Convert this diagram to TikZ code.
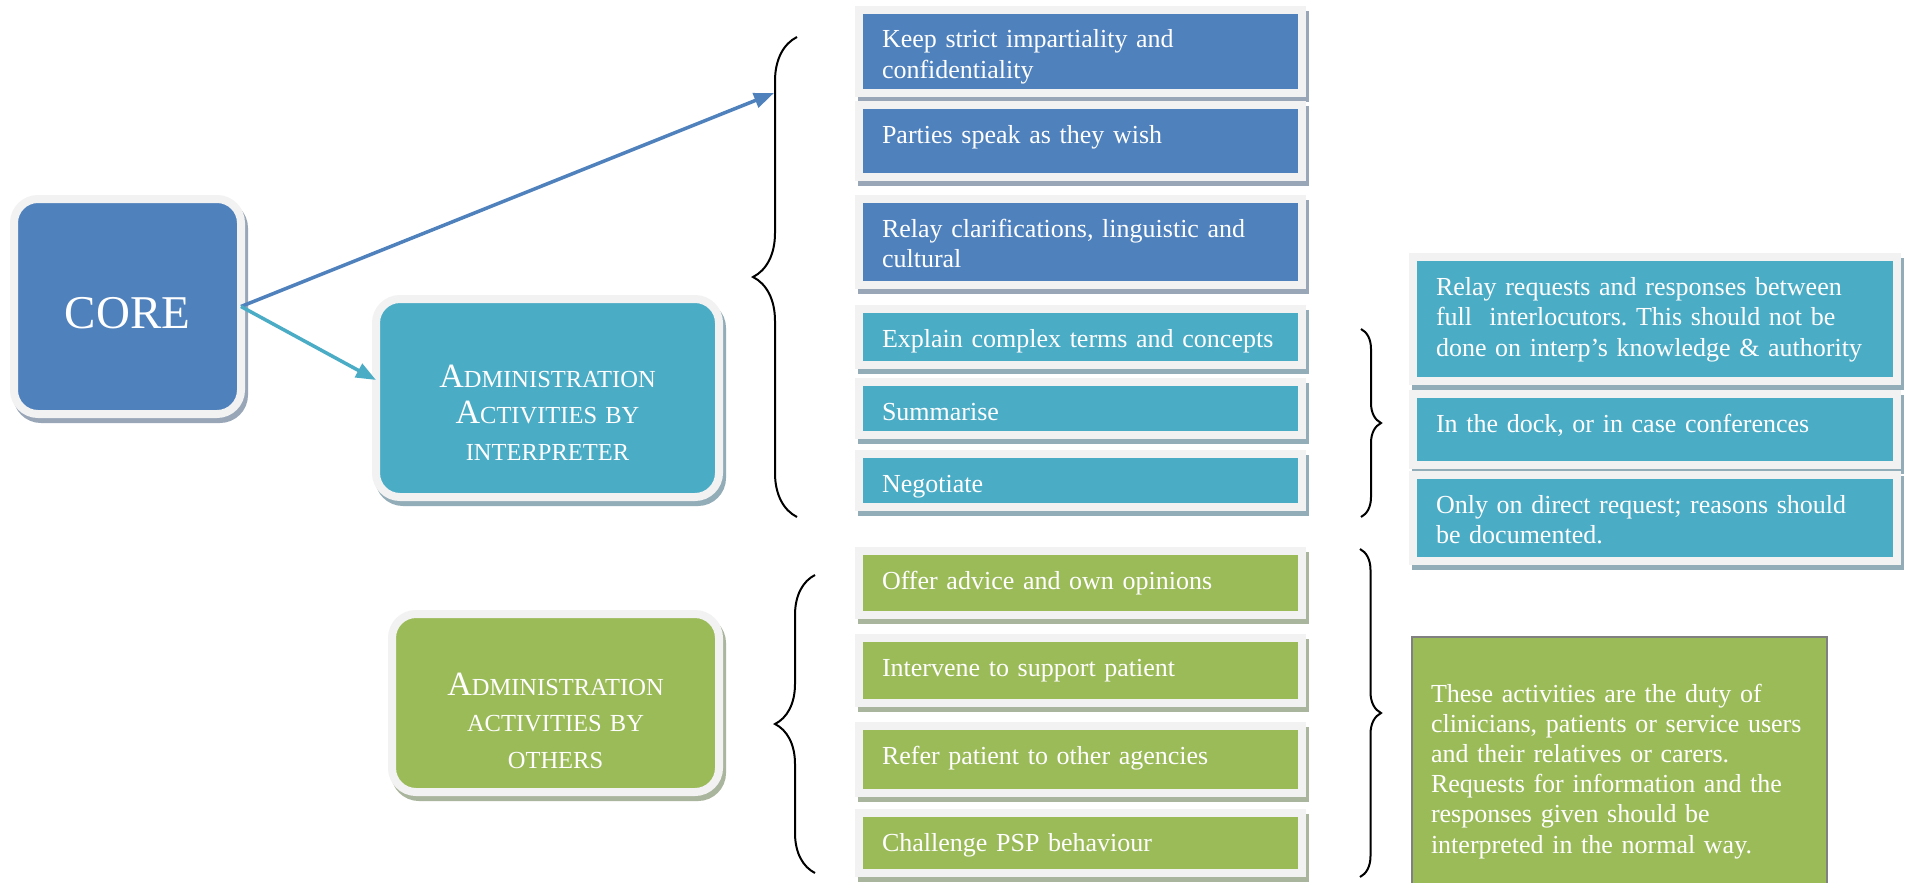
\documentclass[tikz,border=0pt]{standalone}
\usepackage{fontspec}
\setmainfont{Liberation Serif}
\usetikzlibrary{positioning, decorations.pathreplacing, arrows.meta}

\definecolor{coreblue}{HTML}{4F81BD}
\definecolor{interteal}{HTML}{4BACC6}
\definecolor{othergreen}{HTML}{9BBB59}
\definecolor{framegray}{HTML}{F2F2F2}
\definecolor{blueshade}{HTML}{98A6B8}
\definecolor{tealshade}{HTML}{93ADB8}
\definecolor{greenshade}{HTML}{A9B59C}
\definecolor{notegray}{HTML}{808080}

\newcommand{\tallcap}[1]{{\fontsize{34}{36.5}\selectfont #1}}
\frenchspacing

\begin{document}
\begin{tikzpicture}[x=1pt, y=-1pt, node distance=12pt,
  box shadow/.style={preaction={fill=#1, draw=#1, line width=8pt,
      transform canvas={xshift=3pt, yshift=-5pt}}},
  box frame/.style={rectangle, draw=framegray, line width=8pt, outer sep=0pt, text=white},
  main node/.style={box frame, rounded corners=24pt, inner xsep=10pt, inner ysep=0pt,
      align=center, font=\fontsize{24.5}{36.5}\selectfont},
  item node/.style={box frame, inner xsep=23pt, inner ysep=0pt, text width=397pt,
      text height=38pt, align=left, font=\fontsize{26}{30.5}\selectfont},
  blue item/.style={item node, fill=coreblue, box shadow=blueshade},
  teal item/.style={item node, fill=interteal, box shadow=tealshade},
  green item/.style={item node, fill=othergreen, box shadow=greenshade},
  note node/.style={rectangle, draw=notegray, line width=1.5pt, outer sep=0pt,
      fill=othergreen, text=white, inner xsep=19pt, inner ysep=0pt, text width=377pt,
      align=left, font=\fontsize{26}{30.2}\selectfont},
  arrow/.style={-{Triangle[length=20pt, width=15pt]}, line width=3.5pt},
  curly/.style={decorate, decoration={brace, amplitude=#1}, line width=2pt}]

  \fill[white, use as bounding box] (0,0) rectangle (1906,883);

  % left column
  \node[main node, fill=coreblue, box shadow=blueshade, text width=207pt,
        text height=129pt, text depth=86pt, font=\fontsize{47}{50}\selectfont]
        (core) at (127.5,306.5) {CORE};
  \node[main node, fill=interteal, box shadow=tealshade, text width=323pt,
        text height=88pt, text depth=110pt] (interp) at (547.5,398)
        {\tallcap{A}DMINISTRATION\\\tallcap{A}CTIVITIES BY\\INTERPRETER};
  \node[main node, fill=othergreen, box shadow=greenshade, text width=307pt,
        text height=81pt, text depth=97pt] (others) at (555.5,703)
        {\tallcap{A}DMINISTRATION\\ACTIVITIES BY\\OTHERS};

  % middle column
  \node[blue item, text depth=45pt, anchor=north] (keep) at (1080.5,10)
        {Keep strict impartiality and\\confidentiality};
  \node[blue item, text depth=34pt, below=12pt of keep] (speak) {Parties speak as they wish};
  \node[blue item, text depth=48pt, below=22pt of speak] (relay)
        {Relay clarifications, linguistic and\\cultural};
  \node[teal item, text depth=18pt, below=24pt of relay] (explain) {Explain complex terms and concepts};
  \node[teal item, text depth=15pt, below=17pt of explain] (summ) {Summarise};
  \node[teal item, text depth=15pt, below=19pt of summ] (negot) {Negotiate};
  \node[green item, text depth=26pt, below=44pt of negot] (advice) {Offer advice and own opinions};
  \node[green item, text depth=27pt, below=23pt of advice] (support) {Intervene to support patient};
  \node[green item, text depth=29pt, below=23pt of support] (refer) {Refer patient to other agencies};
  \node[green item, text depth=22pt, below=20pt of refer] (challenge) {Challenge PSP behaviour};

  % right column
  \node[teal item, text width=438pt, text depth=86pt, anchor=north] (between) at (1655,257)
        {Relay requests and responses between\\full\ \ interlocutors. This should not be\\done on interp’s knowledge \& authority};
  \node[teal item, text width=438pt, text depth=33pt, below=13pt of between] (dock)
        {In the dock, or in case conferences};
  \node[teal item, text width=438pt, text depth=48pt, below=10pt of dock] (direct)
        {Only on direct request; reasons should\\be documented.};
  \node[note node, text height=65pt, text depth=201pt, anchor=north] (duty) at (1619.5,637)
        {These activities are the duty of\\clinicians, patients or service users\\and their relatives or carers.\\Requests for information and the\\responses given should be\\interpreted in the normal way.};

  % arrows
  \coordinate (tip) at (774,93);
  \draw[arrow, coreblue] (core.east) -- (tip);
  \draw[arrow, interteal] (core.east) -- (interp.174);

  % braces
  \draw[curly=44pt] (797,517) -- (797,37);
  \draw[curly=40pt] (815,873) -- (815,575);
  \draw[curly=20pt] (1361,329) -- (1361,517);
  \draw[curly=21pt] (1360,549) -- (1360,877);
\end{tikzpicture}
\end{document}
